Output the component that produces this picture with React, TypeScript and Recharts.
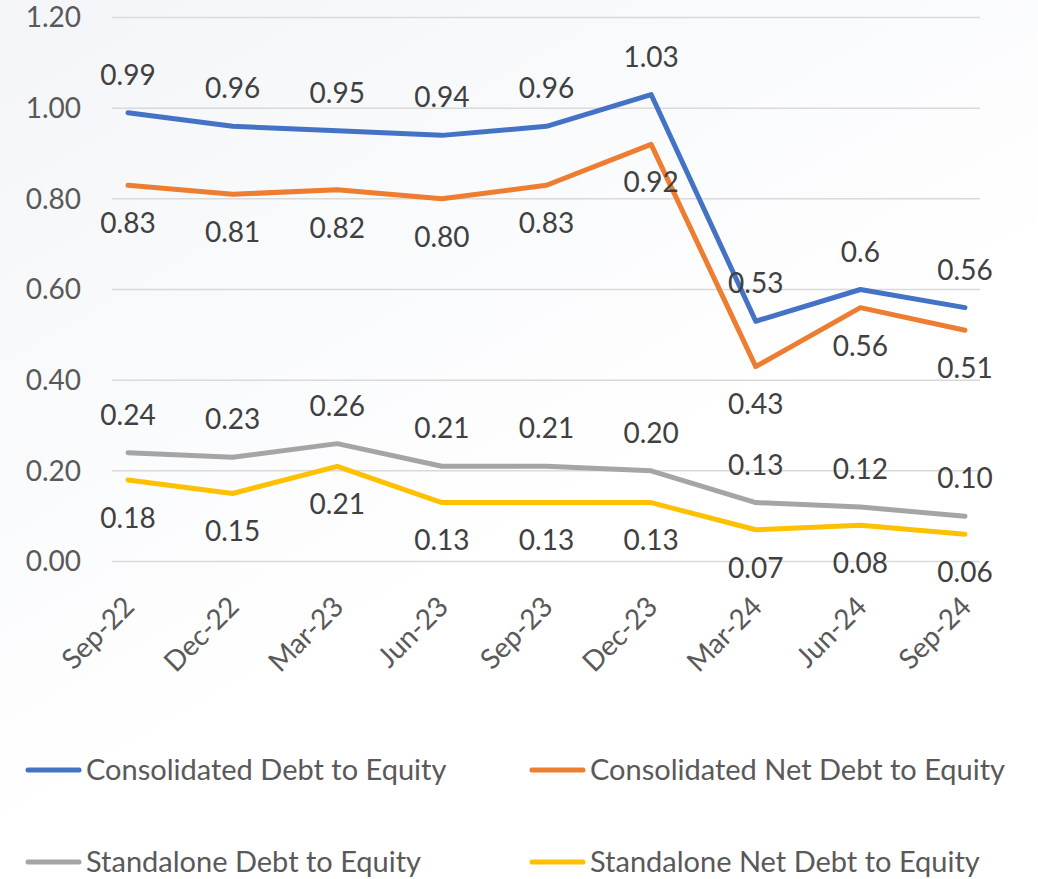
import React from 'react';
import { LineChart, Line, XAxis, YAxis, CartesianGrid, LabelList, Legend } from 'recharts';

const categories = ['Sep-22', 'Dec-22', 'Mar-23', 'Jun-23', 'Sep-23', 'Dec-23', 'Mar-24', 'Jun-24', 'Sep-24'];
const consolidatedDE = [0.99, 0.96, 0.95, 0.94, 0.96, 1.03, 0.53, 0.6, 0.56];
const consolidatedDELabels = ['0.99', '0.96', '0.95', '0.94', '0.96', '1.03', '0.53', '0.6', '0.56'];
const consolidatedNetDE = [0.83, 0.81, 0.82, 0.8, 0.83, 0.92, 0.43, 0.56, 0.51];
const standaloneDE = [0.24, 0.23, 0.26, 0.21, 0.21, 0.2, 0.13, 0.12, 0.1];
const standaloneNetDE = [0.18, 0.15, 0.21, 0.13, 0.13, 0.13, 0.07, 0.08, 0.06];
const yTicks = [0, 0.2, 0.4, 0.6, 0.8, 1.0, 1.2];

const seriesNames = [
  'Consolidated Debt to Equity',
  'Consolidated Net Debt to Equity',
  'Standalone Debt to Equity',
  'Standalone Net Debt to Equity',
];
const colors = ['#4472C4', '#ED7D31', '#A5A5A5', '#FFC000'];

const data = categories.map((c, i) => ({
  cat: c,
  cde: consolidatedDE[i],
  cdeLabel: consolidatedDELabels[i],
  cnde: consolidatedNetDE[i],
  sde: standaloneDE[i],
  snde: standaloneNetDE[i],
}));

const FONT = 'Lato, "Open Sans", sans-serif';
const AXIS_COLOR = '#595959';
const LABEL_COLOR = '#404040';
const FS = 28;
const LEGEND_FS = 29;

const XTick = (props: any) => {
  const { x, y, payload } = props;
  const ax = x + 8;
  const ay = y + 47;
  return (
    <text
      x={ax}
      y={ay}
      transform={`rotate(-45, ${ax}, ${ay})`}
      textAnchor="end"
      fill={AXIS_COLOR}
      fontSize={FS}
      fontFamily={FONT}
    >
      {payload.value}
    </text>
  );
};

const legendPos = [
  { lx: 26, ly: 770 },
  { lx: 530, ly: 770 },
  { lx: 26, ly: 862 },
  { lx: 530, ly: 862 },
];

const LegendContent = () => (
  <svg width={1038} height={140} style={{ overflow: 'visible', display: 'block' }}>
    {seriesNames.map((name, i) => {
      const p = legendPos[i];
      const yy = p.ly - 740;
      return (
        <g key={name}>
          <line x1={p.lx + 2} x2={p.lx + 53} y1={yy} y2={yy} stroke={colors[i]} strokeWidth={5} strokeLinecap="round" />
          <text x={p.lx + 60} y={yy} dy="0.36em" fill={AXIS_COLOR} fontSize={LEGEND_FS} fontFamily={FONT}>
            {name}
          </text>
        </g>
      );
    })}
  </svg>
);

export default function App() {
  return (
    <div
      style={{
        position: 'absolute',
        left: 0,
        top: 0,
        width: 1038,
        height: 879,
        background: 'linear-gradient(150deg, #f3f5f8 0%, #fafbfc 35%, #ffffff 60%)',
        overflow: 'hidden',
      }}
    >
      <LineChart
        width={1038}
        height={879}
        data={data}
        margin={{ top: 17.5, right: 58, left: 0, bottom: 217.5 }}
        style={{ fontFamily: FONT }}
      >
        <CartesianGrid vertical={false} stroke="#d9d9d9" strokeWidth={1.5} />
        <XAxis
          dataKey="cat"
          padding={{ left: 16, right: 15 }}
          axisLine={false}
          tickLine={false}
          tickSize={0}
          tickMargin={0}
          height={100}
          interval={0}
          tick={<XTick />}
        />
        <YAxis
          domain={[0, 1.2]}
          ticks={yTicks}
          width={112}
          axisLine={false}
          tickLine={false}
          tickSize={0}
          tickMargin={31}
          tickFormatter={(v: number) => v.toFixed(2)}
          tick={{ fill: AXIS_COLOR, fontSize: FS, fontFamily: FONT }}
        />
        <Legend
          layout="horizontal"
          verticalAlign="middle"
          align="center"
          content={<LegendContent />}
          wrapperStyle={{ position: 'absolute', top: 740, left: 0, width: 1038, height: 140 }}
        />
        <Line dataKey="cde" name={seriesNames[0]} stroke={colors[0]} strokeWidth={5} dot={false} strokeLinecap="round" strokeLinejoin="round" isAnimationActive={false}>
          <LabelList dataKey="cdeLabel" position="top" offset={28} fill={LABEL_COLOR} fontSize={FS} fontFamily={FONT} />
        </Line>
        <Line dataKey="cnde" name={seriesNames[1]} stroke={colors[1]} strokeWidth={5} dot={false} strokeLinecap="round" strokeLinejoin="round" isAnimationActive={false}>
          <LabelList dataKey="cnde" position="bottom" offset={28} fill={LABEL_COLOR} fontSize={FS} fontFamily={FONT} formatter={(v: any) => Number(v).toFixed(2)} />
        </Line>
        <Line dataKey="sde" name={seriesNames[2]} stroke={colors[2]} strokeWidth={5} dot={false} strokeLinecap="round" strokeLinejoin="round" isAnimationActive={false}>
          <LabelList dataKey="sde" position="top" offset={28} fill={LABEL_COLOR} fontSize={FS} fontFamily={FONT} formatter={(v: any) => Number(v).toFixed(2)} />
        </Line>
        <Line dataKey="snde" name={seriesNames[3]} stroke={colors[3]} strokeWidth={5} dot={false} strokeLinecap="round" strokeLinejoin="round" isAnimationActive={false}>
          <LabelList dataKey="snde" position="bottom" offset={28} fill={LABEL_COLOR} fontSize={FS} fontFamily={FONT} formatter={(v: any) => Number(v).toFixed(2)} />
        </Line>
      </LineChart>
    </div>
  );
}
